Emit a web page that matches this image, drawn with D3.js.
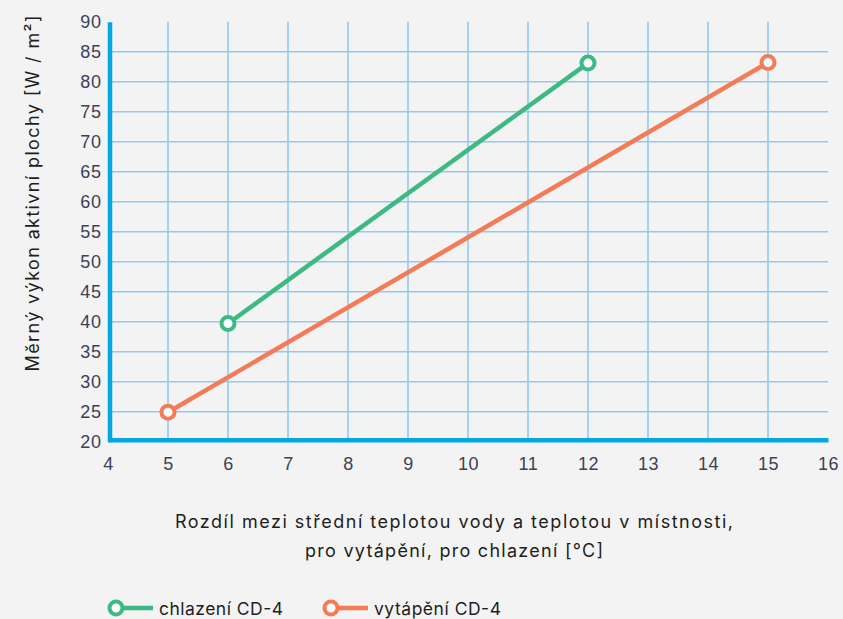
<!DOCTYPE html>
<html><head><meta charset="utf-8">
<script src="https://cdn.jsdelivr.net/npm/d3@7"></script>
<style>
html,body{margin:0;padding:0;background:#f3f3f3;}
svg{display:block;font-family:Inter, "Noto Sans", sans-serif;}
</style></head>
<body>
<svg id="c" width="843" height="619"></svg>
<script>
const xTicks = [4,5,6,7,8,9,10,11,12,13,14,15,16];
const yTicks = [20,25,30,35,40,45,50,55,60,65,70,75,80,85,90];
const seriesNames = ["chlazení CD-4", "vytápění CD-4"];
const chlazeniX = [6, 12];
const chlazeniY = [39.7, 83.1];
const vytapeniX = [5, 15];
const vytapeniY = [24.9, 83.2];
const yLabel = "Měrný výkon aktivní plochy [W / m²]";
const xLabel1 = "Rozdíl mezi střední teplotou vody a teplotou v místnosti,";
const xLabel2 = "pro vytápění, pro chlazení [°C]";

const colors = ["#3dba83", "#f47b58"];
const series = [
  {name: seriesNames[0], pts: chlazeniX.map((x,i)=>({x, y: chlazeniY[i]})), color: colors[0]},
  {name: seriesNames[1], pts: vytapeniX.map((x,i)=>({x, y: vytapeniY[i]})), color: colors[1]}
];

const svg = d3.select("#c");
svg.append("rect").attr("width",843).attr("height",619).attr("fill","#f3f3f3");

const x = d3.scaleLinear().domain([4,16]).range([108,828]);
const y = d3.scaleLinear().domain([20,90]).range([441.7,21.7]);

const grid = svg.append("g");
grid.selectAll("line.v").data(xTicks.filter(t=>t>4 && t<16)).join("line")
  .attr("x1",d=>x(d)).attr("x2",d=>x(d)).attr("y1",y(90)).attr("y2",y(20))
  .attr("stroke","#93c9ee").attr("stroke-width",1.6);
grid.selectAll("line.h").data(yTicks.filter(t=>t>20 && t<90)).join("line")
  .attr("x1",x(4)).attr("x2",x(16)).attr("y1",d=>y(d)).attr("y2",d=>y(d))
  .attr("stroke","#93c9ee").attr("stroke-width",1.6);

// axes
const xAxis = svg.append("g").attr("transform",`translate(0,${y(20)-2})`)
  .call(d3.axisBottom(x).tickValues(xTicks).tickSize(0).tickPadding(18));
xAxis.select(".domain").attr("stroke","#03a7e1").attr("stroke-width",4.5);
xAxis.selectAll("text").attr("fill","#3b4157").attr("font-size",18).attr("letter-spacing",0.6);

const yAxis = svg.append("g").attr("transform",`translate(${x(4)+1.5},0)`)
  .call(d3.axisLeft(y).tickValues(yTicks).tickSize(0).tickPadding(8));
yAxis.select(".domain").attr("stroke","#03a7e1").attr("stroke-width",4.5);
yAxis.selectAll("text").attr("fill","#3b4157").attr("font-size",18).attr("letter-spacing",0.6);

// lines
const line = d3.line().x(d=>x(d.x)).y(d=>y(d.y));
series.forEach(s=>{
  svg.append("path").datum(s.pts).attr("d",line).attr("fill","none")
    .attr("stroke",s.color).attr("stroke-width",4.5);
  svg.selectAll(null).data(s.pts).join("circle")
    .attr("cx",d=>x(d.x)).attr("cy",d=>y(d.y)).attr("r",6.5)
    .attr("fill","#fff").attr("stroke",s.color).attr("stroke-width",4);
});

// axis titles
svg.append("text").attr("transform","translate(39,193.5) rotate(-90)")
  .attr("text-anchor","middle").attr("font-size",18).attr("fill","#1e1e1e")
  .attr("textLength",356).attr("lengthAdjust","spacing").text(yLabel);
svg.append("text").attr("x",454).attr("y",528).attr("text-anchor","middle")
  .attr("font-size",18).attr("fill","#1e1e1e")
  .attr("textLength",558).attr("lengthAdjust","spacing").text(xLabel1);
svg.append("text").attr("x",454).attr("y",557).attr("text-anchor","middle")
  .attr("font-size",18).attr("fill","#1e1e1e")
  .attr("textLength",298).attr("lengthAdjust","spacing").text(xLabel2);

// legend
const legX = [116, 331];
const legW = [124, 127];
series.forEach((s,i)=>{
  const g = svg.append("g").attr("transform",`translate(${legX[i]},608)`);
  g.append("line").attr("x1",0).attr("x2",37).attr("y1",0).attr("y2",0)
    .attr("stroke",s.color).attr("stroke-width",4.5);
  g.append("circle").attr("cx",0).attr("cy",0).attr("r",6.5)
    .attr("fill","#fff").attr("stroke",s.color).attr("stroke-width",4);
  g.append("text").attr("x",43).attr("y",6.5).attr("font-size",17.5)
    .attr("fill","#1e1e1e").attr("textLength",legW[i]).attr("lengthAdjust","spacing").text(s.name);
});
</script>
</body></html>
